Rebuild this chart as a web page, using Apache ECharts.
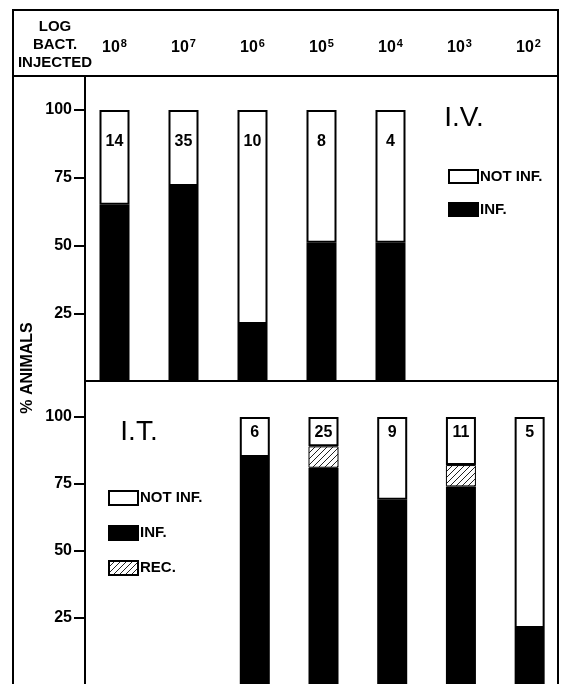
<!DOCTYPE html>
<html>
<head>
<meta charset="utf-8">
<script src="https://cdn.jsdelivr.net/npm/echarts@6/dist/echarts.min.js"></script>
<style>
  html, body { margin: 0; padding: 0; background: #fff; }
  #chart { width: 564px; height: 684px; }
</style>
</head>
<body>
<div id="chart"></div>
<script>
// dose columns: 10^8 ... 10^2
const logDose = [8, 7, 6, 5, 4, 3, 2];
const yTicks = [25, 50, 75, 100];

// I.V. panel (% animals)
const ivInf = [65, 72, 21, 51, 51, null, null];
const ivNotInf = [35, 28, 79, 49, 49, null, null];
const ivCounts = [14, 35, 10, 8, 4, null, null];

// I.T. panel (% animals)
const itInf = [null, null, 85, 81, 69, 74, 21];
const itRec = [null, null, null, 8, null, 8, null];
const itNotInf = [null, null, 15, 11, 31, 18, 79];
const itCounts = [null, null, 6, 25, 9, 11, 5];

const font = 'Liberation Sans';
const categories = logDose.map(String);

// diagonal hatch for REC.
const hatch = document.createElement('canvas');
hatch.width = 6;
hatch.height = 6;
const hc = hatch.getContext('2d');
hc.fillStyle = '#fff';
hc.fillRect(0, 0, 6, 6);
hc.strokeStyle = '#222';
hc.lineWidth = 1;
hc.beginPath();
hc.moveTo(0, 6); hc.lineTo(6, 0);
hc.moveTo(-1, 1); hc.lineTo(1, -1);
hc.moveTo(5, 7); hc.lineTo(7, 5);
hc.stroke();

const chart = echarts.init(document.getElementById('chart'));

const yAxisBase = {
  type: 'value',
  min: 0,
  max: 100,
  axisLine: { show: false },
  splitLine: { show: false },
  axisTick: { show: true, length: 11, customValues: yTicks, lineStyle: { color: '#000', width: 2 } },
  axisLabel: { customValues: yTicks, margin: 13, color: '#000', fontFamily: font, fontWeight: 'bold', fontSize: 16 }
};

const legendText = { color: '#000', fontFamily: font, fontWeight: 'bold', fontSize: 15, padding: [0, 0, 0, -3] };
const white = { color: '#fff', borderColor: '#000', borderWidth: 2 };
const black = { color: '#000', borderColor: '#000', borderWidth: 2 };
const countLabel = (counts, dist) => ({
  show: true,
  position: 'insideTop',
  distance: dist,
  color: '#000',
  fontFamily: font,
  fontWeight: 'bold',
  fontSize: 16,
  formatter: p => counts[p.dataIndex] == null ? '' : String(counts[p.dataIndex])
});

const line = (x1, y1, x2, y2) => ({
  type: 'line',
  shape: { x1, y1, x2, y2 },
  style: { stroke: '#000', lineWidth: 2 },
  silent: true
});

const option = {
  animation: false,
  grid: [
    { left: 80, top: 110, width: 483, height: 271 },
    { left: 83, top: 417, width: 483, height: 269 }
  ],
  xAxis: [
    { gridIndex: 0, type: 'category', data: categories, show: false },
    {
      gridIndex: 0, type: 'category', data: categories, position: 'top',
      axisLine: { show: false }, axisTick: { show: false },
      axisLabel: {
        interval: 0,
        margin: 53,
        color: '#000',
        formatter: v => '{b|10}{s|' + v + '}',
        rich: {
          b: { fontFamily: font, fontWeight: 'bold', fontSize: 16, color: '#000' },
          s: { fontFamily: font, fontWeight: 'bold', fontSize: 11, color: '#000', verticalAlign: 'top', padding: [0, 0, 8, 1] }
        }
      }
    },
    { gridIndex: 1, type: 'category', data: categories, show: false }
  ],
  yAxis: [
    Object.assign({ gridIndex: 0, offset: -5 }, yAxisBase),
    Object.assign({ gridIndex: 1, offset: -2 }, yAxisBase)
  ],
  legend: [
    {
      data: ['NOT INF.', 'INF.'], left: 443, top: 164, orient: 'vertical',
      icon: 'rect', itemWidth: 29, itemHeight: 13, itemGap: 18,
      selectedMode: false, textStyle: legendText
    },
    {
      data: ['NOT INF.', 'INF.', 'REC.'], left: 103, top: 485, orient: 'vertical',
      icon: 'rect', itemWidth: 29, itemHeight: 14, itemGap: 19,
      selectedMode: false, textStyle: legendText
    }
  ],
  series: [
    { name: 'INF.', type: 'bar', stack: 'iv', xAxisIndex: 0, yAxisIndex: 0, barWidth: 30, data: ivInf, itemStyle: black },
    { name: 'NOT INF.', type: 'bar', stack: 'iv', xAxisIndex: 0, yAxisIndex: 0, barWidth: 30, data: ivNotInf, itemStyle: white, label: countLabel(ivCounts, 24) },
    { name: 'INF.', type: 'bar', stack: 'it', xAxisIndex: 2, yAxisIndex: 1, barWidth: 30, data: itInf, itemStyle: black },
    { name: 'REC.', type: 'bar', stack: 'it', xAxisIndex: 2, yAxisIndex: 1, barWidth: 30, data: itRec, itemStyle: { color: { image: hatch, repeat: 'repeat' }, borderColor: '#000', borderWidth: 1 } },
    { name: 'NOT INF.', type: 'bar', stack: 'it', xAxisIndex: 2, yAxisIndex: 1, barWidth: 30, data: itNotInf, itemStyle: white, label: countLabel(itCounts, 8) }
  ],
  graphic: [
    // frame and panel rules
    { type: 'polyline', shape: { points: [[13, 690], [13, 10], [558, 10], [558, 690]] }, style: { stroke: '#000', lineWidth: 2, fill: null }, silent: true },
    line(13, 76, 558, 76),
    line(85, 76, 85, 690),
    line(85, 381, 558, 381),
    {
      type: 'text', x: 55, y: 45,
      style: { text: 'LOG\nBACT.\nINJECTED', fill: '#000', font: 'bold 15px "Liberation Sans"', align: 'center', verticalAlign: 'middle', lineHeight: 18 }
    },
    {
      type: 'text', x: 28, y: 368, rotation: Math.PI / 2,
      style: { text: '% ANIMALS', fill: '#000', font: 'bold 16px "Liberation Sans"', align: 'center', verticalAlign: 'middle' }
    },
    {
      type: 'text', x: 464, y: 118,
      style: { text: 'I.V.', fill: '#000', font: '28px "Liberation Sans"', align: 'center', verticalAlign: 'middle' }
    },
    {
      type: 'text', x: 139, y: 432,
      style: { text: 'I.T.', fill: '#000', font: '28px "Liberation Sans"', align: 'center', verticalAlign: 'middle' }
    }
  ]
};

chart.setOption(option);
</script>
</body>
</html>
